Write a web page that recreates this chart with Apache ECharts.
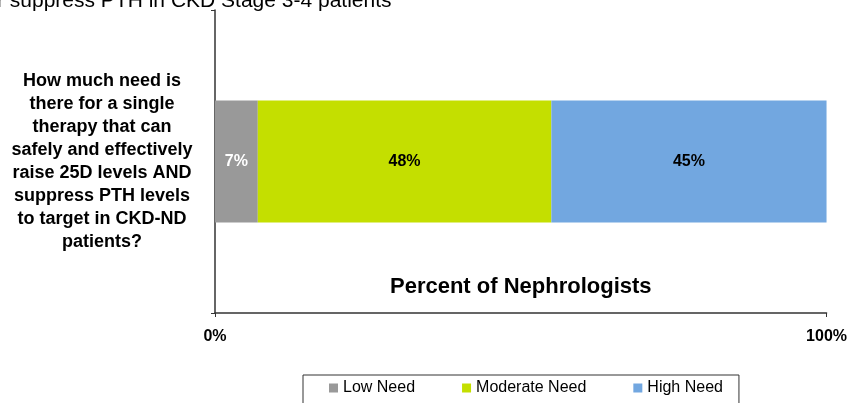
<!DOCTYPE html>
<html>
<head>
<meta charset="utf-8">
<script src="https://cdn.jsdelivr.net/npm/echarts@6/dist/echarts.min.js"></script>
<style>
  html, body { margin: 0; padding: 0; background: #fff; }
  #main { width: 850px; height: 403px; }
</style>
</head>
<body>
<div id="main"></div>
<script>
// data
var categories = ['How much need is\nthere for a single\ntherapy that can\nsafely and effectively\nraise 25D levels AND\nsuppress PTH levels\nto target in CKD-ND\npatients?'];
var seriesNames = ['Low Need', 'Moderate Need', 'High Need'];
var lowNeed = [7];
var moderateNeed = [48];
var highNeed = [45];
var colors = ['#999999', '#c4df00', '#72a7e0'];
var labelColors = ['#ffffff', '#000000', '#000000'];

var myChart = echarts.init(document.getElementById('main'));

var values = [lowNeed, moderateNeed, highNeed];
var series = seriesNames.map(function (name, i) {
    return {
        name: name,
        type: 'bar',
        stack: 'total',
        barWidth: 122,
        data: values[i],
        itemStyle: { color: colors[i] },
        label: {
            show: true,
            position: 'inside',
            formatter: '{c}%',
            color: labelColors[i],
            fontWeight: 'bold',
            fontSize: 16,
            fontFamily: 'Liberation Sans, Arial, sans-serif'
        }
    };
});

option = {
    animation: false,
    textStyle: { fontFamily: 'Liberation Sans, Arial, sans-serif' },
    title: {
        text: 'r suppress PTH in CKD Stage 3-4 patients',
        left: -3,
        top: -9,
        padding: 0,
        textStyle: {
            fontSize: 21,
            fontWeight: 'normal',
            color: '#000',
            fontFamily: 'Liberation Sans, Arial, sans-serif'
        }
    },
    grid: {
        left: 215,
        right: 22,
        top: 10,
        bottom: 90
    },
    legend: {
        data: seriesNames,
        left: 303,
        top: 375,
        itemWidth: 9,
        itemHeight: 9,
        itemGap: 47,
        padding: [5, 16, 30, 26],
        borderColor: '#333',
        borderWidth: 1,
        icon: 'rect',
        textStyle: {
            fontSize: 16,
            color: '#000',
            fontFamily: 'Liberation Sans, Arial, sans-serif'
        }
    },
    xAxis: {
        type: 'value',
        min: 0,
        max: 100,
        interval: 100,
        name: 'Percent of Nephrologists',
        nameLocation: 'middle',
        nameGap: -37,
        nameTextStyle: {
            fontSize: 22,
            fontWeight: 'bold',
            color: '#000'
        },
        axisLine: { show: true, lineStyle: { color: '#333', width: 1.5 } },
        axisTick: { show: true, length: 4, lineStyle: { color: '#333' } },
        splitLine: { show: false },
        axisLabel: {
            formatter: '{value}%',
            fontWeight: 'bold',
            fontSize: 16,
            color: '#000',
            margin: 16
        }
    },
    yAxis: {
        type: 'category',
        data: categories,
        axisLine: { show: true, lineStyle: { color: '#333', width: 1.5 } },
        axisTick: { show: true, length: 4, lineStyle: { color: '#333' } },
        axisLabel: {
            align: 'center',
            margin: 113,
            fontWeight: 'bold',
            fontSize: 18,
            lineHeight: 23,
            color: '#000'
        }
    },
    series: series
};

myChart.setOption(option);
</script>
</body>
</html>
